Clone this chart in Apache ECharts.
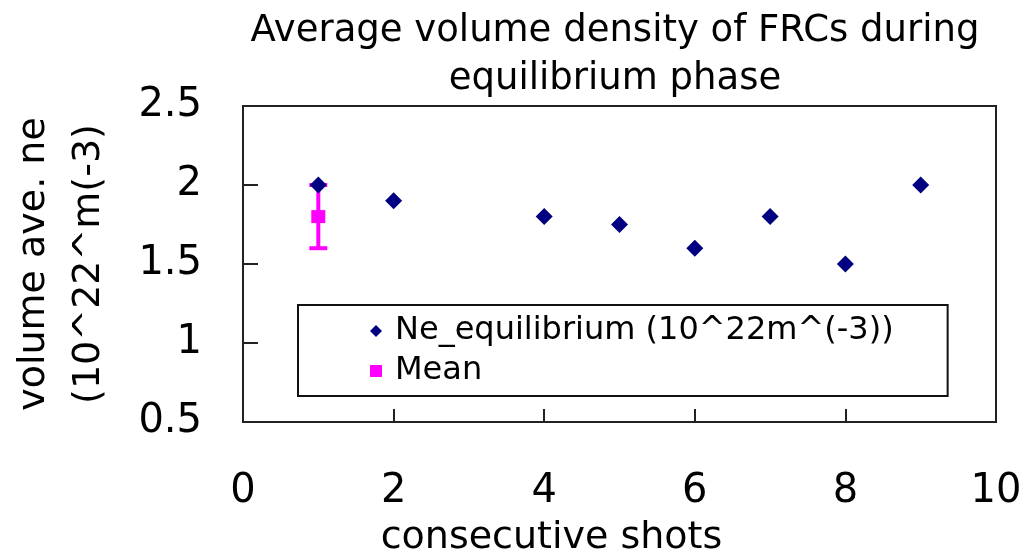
<!DOCTYPE html>
<html>
<head>
<meta charset="utf-8">
<script src="https://cdn.jsdelivr.net/npm/echarts@6/dist/echarts.min.js"></script>
<style>
  html, body { margin: 0; padding: 0; background: #fff; }
  #chart { width: 1031px; height: 556px; }
</style>
</head>
<body>
<div id="chart"></div>
<script>
// Shot numbers and measured equilibrium densities (10^22 m^-3)
const shots = [1, 2, 4, 5, 6, 7, 8, 9];
const neEquilibrium = [2.0, 1.9, 1.8, 1.75, 1.6, 1.8, 1.5, 2.0];

// Mean over the shots, drawn at shot 1 with its error range
const meanShot = [1];
const meanValue = [1.8];
const meanLow = [1.6];
const meanHigh = [2.0];

// Axis ranges / ticks
const xRange = [0, 10, 2];
const yRange = [0.5, 2.5, 0.5];

const titleText = 'Average volume density of FRCs during\nequilibrium phase';
const xName = 'consecutive shots';
const yName = 'volume ave. ne\n(10^22^m(-3)';
const seriesNames = ['Ne_equilibrium (10^22m^(-3))', 'Mean'];

const FONT = 'DejaVu Sans';
const NAVY = '#000080';
const MAGENTA = '#FF00FF';

const chart = echarts.init(document.getElementById('chart'), null, { renderer: 'canvas' });

chart.setOption({
  animation: false,
  backgroundColor: '#ffffff',
  title: {
    text: titleText,
    left: 610,
    top: 2,
    textAlign: 'center',
    textStyle: {
      fontFamily: FONT,
      fontSize: 37,
      fontWeight: 'normal',
      color: '#000',
      lineHeight: 48
    }
  },
  grid: {
    left: 243,
    right: 35,
    top: 106,
    bottom: 134,
    outerBoundsMode: 'none',
    containLabel: false,
    show: true,
    borderColor: '#222',
    borderWidth: 2,
    backgroundColor: '#fff'
  },
  legend: {
    orient: 'vertical',
    left: 298,
    top: 305,
    padding: [10, 54, 9, 72],
    itemGap: 8,
    itemWidth: 12,
    itemHeight: 12,
    backgroundColor: '#fff',
    borderColor: '#111',
    borderWidth: 2,
    borderRadius: 0,
    data: seriesNames,
    textStyle: {
      fontFamily: FONT,
      fontSize: 32,
      color: '#000',
      padding: [0, 0, 0, 8]
    }
  },
  xAxis: {
    type: 'value',
    min: xRange[0],
    max: xRange[1],
    interval: xRange[2],
    name: xName,
    nameLocation: 'middle',
    nameGap: 97,
    nameTextStyle: {
      fontFamily: FONT,
      fontSize: 38,
      color: '#000',
      padding: [0, 136, 0, 0]
    },
    axisLine: { show: true, onZero: false, lineStyle: { color: '#222', width: 2 } },
    axisTick: { show: true, inside: true, length: 13, lineStyle: { color: '#222', width: 2 } },
    axisLabel: { fontFamily: FONT, fontSize: 40, color: '#000', margin: 50 },
    splitLine: { show: false }
  },
  yAxis: {
    type: 'value',
    min: yRange[0],
    max: yRange[1],
    interval: yRange[2],
    name: yName,
    nameLocation: 'middle',
    nameGap: 126,
    nameRotate: 90,
    nameTextStyle: {
      fontFamily: FONT,
      fontSize: 38,
      color: '#000',
      lineHeight: 55
    },
    axisLine: { show: true, lineStyle: { color: '#222', width: 2 } },
    axisTick: { show: true, inside: true, length: 15, lineStyle: { color: '#222', width: 2 } },
    axisLabel: { fontFamily: FONT, fontSize: 40, color: '#000', margin: 41 },
    splitLine: { show: false }
  },
  series: [
    {
      // error range of the mean
      type: 'custom',
      name: 'meanRange',
      z: 2,
      silent: true,
      data: meanShot.map((s, i) => [s, meanLow[i], meanHigh[i]]),
      renderItem: function (params, api) {
        const x = api.value(0);
        const lo = api.coord([x, api.value(1)]);
        const hi = api.coord([x, api.value(2)]);
        const half = 9;
        const style = { stroke: MAGENTA, lineWidth: 4 };
        return {
          type: 'group',
          children: [
            { type: 'line', shape: { x1: lo[0], y1: lo[1], x2: hi[0], y2: hi[1] }, style: style },
            { type: 'line', shape: { x1: lo[0] - half, y1: lo[1], x2: lo[0] + half, y2: lo[1] }, style: style },
            { type: 'line', shape: { x1: hi[0] - half, y1: hi[1], x2: hi[0] + half, y2: hi[1] }, style: style }
          ]
        };
      }
    },
    {
      type: 'scatter',
      name: seriesNames[1],
      z: 3,
      symbol: 'rect',
      symbolSize: [14, 13],
      itemStyle: { color: MAGENTA, opacity: 1 },
      emphasis: { disabled: true },
      data: meanShot.map((s, i) => [s, meanValue[i]])
    },
    {
      type: 'scatter',
      name: seriesNames[0],
      z: 4,
      symbol: 'diamond',
      symbolSize: 17,
      itemStyle: { color: NAVY, opacity: 1 },
      emphasis: { disabled: true },
      data: shots.map((s, i) => [s, neEquilibrium[i]])
    }
  ]
});
</script>
</body>
</html>
